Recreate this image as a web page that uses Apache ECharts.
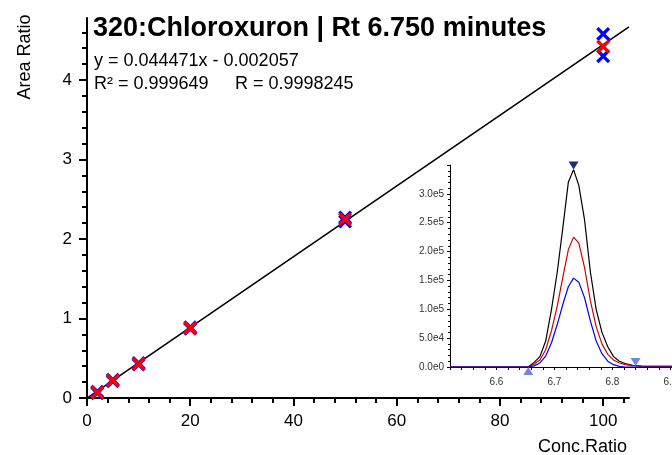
<!DOCTYPE html>
<html>
<head>
<meta charset="utf-8">
<script src="https://cdn.jsdelivr.net/npm/echarts@6/dist/echarts.min.js"></script>
<style>html,body{margin:0;padding:0;background:#fff}#chart{width:672px;height:455px}</style>
</head>
<body>
<div id="chart"></div>
<script>
// calibration points
var conc = [2, 5, 10, 20, 50, 100];
var ratioRed = [0.07, 0.22, 0.43, 0.88, 2.25, 4.42];
var ratioBlueA = [0.08, 0.23, 0.44, 0.89, 2.27, 4.58];
var ratioBlueB = [0.06, 0.21, 0.42, 0.87, 2.22, 4.30];
var slope = 0.044471, intercept = -0.002057;
var lineRange = [0, 105];
var xTickLabels = [0, 20, 40, 60, 80, 100];
var yTickLabels = [0, 1, 2, 3, 4];

// inset chromatogram
var rtTime = [6.52, 6.56, 6.60, 6.64, 6.655, 6.665, 6.675, 6.685, 6.695, 6.705, 6.715, 6.724, 6.733, 6.742, 6.752, 6.762, 6.772, 6.782, 6.792, 6.802, 6.812, 6.822, 6.835, 6.85, 6.87, 6.9, 6.96];
var ticBlack = [0, 0, 0, 0, 0, 8000, 18000, 45000, 100000, 165000, 245000, 320000, 342000, 315000, 255000, 165000, 100000, 60000, 35000, 18000, 10000, 6000, 3000, 1500, 1000, 1000, 1000];
var ticRed = [0, 0, 0, 0, 0, 5000, 12000, 30000, 63000, 106000, 158000, 203000, 225000, 215000, 172000, 115000, 70000, 40000, 22000, 12000, 7000, 4000, 2500, 1500, 1000, 1000, 1000];
var ticBlue = [0, 0, 0, 0, 0, 2000, 7000, 19000, 42000, 74000, 110000, 139000, 154000, 147000, 120000, 80000, 45000, 23000, 10000, 4000, 1000, 0, 0, 0, 0, 0, 0];
var peakApex = [6.733, 342000];
var peakStart = [6.655, 0];
var peakEnd = [6.84, 0];
var insetXLabels = [6.6, 6.7, 6.8, 6.9];
var insetYLabels = [0, 50000, 100000, 150000, 200000, 250000, 300000];

var font = 'Liberation Sans, Arial, sans-serif';
var xMark = 'path://M0,2L2,0L6,4L10,0L12,2L8,6L12,10L10,12L6,8L2,12L0,10L4,6Z';

function pairs(xs, ys) {
	var out = [];
	for (var i = 0; i < xs.length; i++) out.push([xs[i], ys[i]]);
	return out;
}

var chart = echarts.init(document.getElementById('chart'));

var blk = {color: '#000', width: 2};
var thin = {color: '#000', width: 1};

var option = {
	animation: false,
	backgroundColor: '#fff',
	textStyle: {fontFamily: font},
	grid: [
		{left: 87, top: 18, right: 43, bottom: 57, outerBoundsMode: 'none'},
		{left: 450, top: 165, bottom: 88, width: 255.2, outerBoundsMode: 'none'}
	],
	xAxis: [{
		gridIndex: 0, type: 'value', min: 0, max: 105, interval: 20,
		axisLine: {lineStyle: blk},
		axisTick: {customValues: xTickLabels, length: 8, lineStyle: blk},
		minorTick: {show: true, splitNumber: 5, length: 5, lineStyle: blk},
		axisLabel: {customValues: xTickLabels, color: '#000', fontSize: 17, margin: 15},
		splitLine: {show: false}
	}, {
		gridIndex: 1, type: 'value', min: 6.52, max: 6.96, interval: 0.02,
		axisLine: {lineStyle: thin},
		axisTick: {length: 3, lineStyle: thin},
		axisLabel: {customValues: insetXLabels, color: '#333', fontSize: 10, margin: 10,
			formatter: function (v) { return v.toFixed(1); }},
		splitLine: {show: false}
	}],
	yAxis: [{
		gridIndex: 0, type: 'value', min: 0, max: 4.78, interval: 1,
		axisLine: {show: true, lineStyle: blk},
		axisTick: {show: true, customValues: yTickLabels, length: 8, lineStyle: blk},
		minorTick: {show: true, splitNumber: 5, length: 5, lineStyle: blk},
		axisLabel: {customValues: yTickLabels, color: '#000', fontSize: 17, margin: 15},
		splitLine: {show: false}
	}, {
		gridIndex: 1, type: 'value', min: 0, max: 350000, interval: 50000,
		axisLine: {show: true, lineStyle: thin},
		axisTick: {show: true, length: 3, lineStyle: thin},
		minorTick: {show: true, splitNumber: 5, length: 2, lineStyle: thin},
		axisLabel: {customValues: insetYLabels, color: '#333', fontSize: 10, margin: 6,
			formatter: function (v) { return v.toExponential(1).replace('+', ''); }},
		splitLine: {show: false}
	}],
	series: [{
		type: 'line', xAxisIndex: 0, yAxisIndex: 0, symbol: 'none', z: 2,
		lineStyle: {color: '#000', width: 1.6},
		data: [[lineRange[0], slope * lineRange[0] + intercept], [lineRange[1], slope * lineRange[1] + intercept]]
	}, {
		type: 'scatter', xAxisIndex: 0, yAxisIndex: 0, symbol: xMark, symbolSize: 14, z: 3,
		itemStyle: {color: '#0000ff', opacity: 1}, data: pairs(conc, ratioBlueA)
	}, {
		type: 'scatter', xAxisIndex: 0, yAxisIndex: 0, symbol: xMark, symbolSize: 14, z: 3,
		itemStyle: {color: '#0000ff', opacity: 1}, data: pairs(conc, ratioBlueB)
	}, {
		type: 'scatter', xAxisIndex: 0, yAxisIndex: 0, symbol: xMark, symbolSize: 14, z: 4,
		itemStyle: {color: '#ff0000', opacity: 1}, data: pairs(conc, ratioRed)
	}, {
		type: 'line', xAxisIndex: 1, yAxisIndex: 1, symbol: 'none', z: 2,
		lineStyle: {color: '#000', width: 1.2}, data: pairs(rtTime, ticBlack)
	}, {
		type: 'line', xAxisIndex: 1, yAxisIndex: 1, symbol: 'none', z: 3,
		lineStyle: {color: '#d00000', width: 1.2}, data: pairs(rtTime, ticRed)
	}, {
		type: 'line', xAxisIndex: 1, yAxisIndex: 1, symbol: 'none', z: 4,
		lineStyle: {color: '#0000ff', width: 1.2}, data: pairs(rtTime, ticBlue)
	}, {
		type: 'scatter', xAxisIndex: 1, yAxisIndex: 1, clip: false, z: 5,
		symbol: 'triangle', symbolRotate: 180, symbolSize: [10, 8], symbolOffset: [0, -4],
		itemStyle: {color: '#1c2f6e', opacity: 1}, data: [peakApex]
	}, {
		type: 'scatter', xAxisIndex: 1, yAxisIndex: 1, clip: false, z: 5,
		symbol: 'triangle', symbolSize: [10, 8], symbolOffset: [0, 4],
		itemStyle: {color: '#6f84e6', opacity: 1}, data: [peakStart]
	}, {
		type: 'scatter', xAxisIndex: 1, yAxisIndex: 1, clip: false, z: 5,
		symbol: 'triangle', symbolRotate: 180, symbolSize: [10, 8], symbolOffset: [0, -5],
		itemStyle: {color: '#6f84e6', opacity: 1}, data: [peakEnd]
	}],
	graphic: [
		{type: 'text', x: 93, y: 29, style: {text: '320:Chloroxuron | Rt 6.750 minutes', fontSize: 27, fontWeight: 'bold', fontFamily: font, fill: '#000', align: 'left', verticalAlign: 'middle'}},
		{type: 'text', x: 94, y: 61, style: {text: 'y = 0.044471x - 0.002057', fontSize: 18, fontFamily: font, fill: '#000', align: 'left', verticalAlign: 'middle'}},
		{type: 'text', x: 94, y: 84, style: {text: 'R\u00b2 = 0.999649', fontSize: 18, fontFamily: font, fill: '#000', align: 'left', verticalAlign: 'middle'}},
		{type: 'text', x: 235, y: 84, style: {text: 'R = 0.9998245', fontSize: 18, fontFamily: font, fill: '#000', align: 'left', verticalAlign: 'middle'}},
		{type: 'text', x: 25, y: 57, rotation: Math.PI / 2, style: {text: 'Area Ratio', fontSize: 18, fontFamily: font, fill: '#000', align: 'center', verticalAlign: 'middle'}},
		{type: 'text', x: 627, y: 447, style: {text: 'Conc.Ratio', fontSize: 18, fontFamily: font, fill: '#000', align: 'right', verticalAlign: 'middle'}}
	]
};

chart.setOption(option);
</script>
</body>
</html>
